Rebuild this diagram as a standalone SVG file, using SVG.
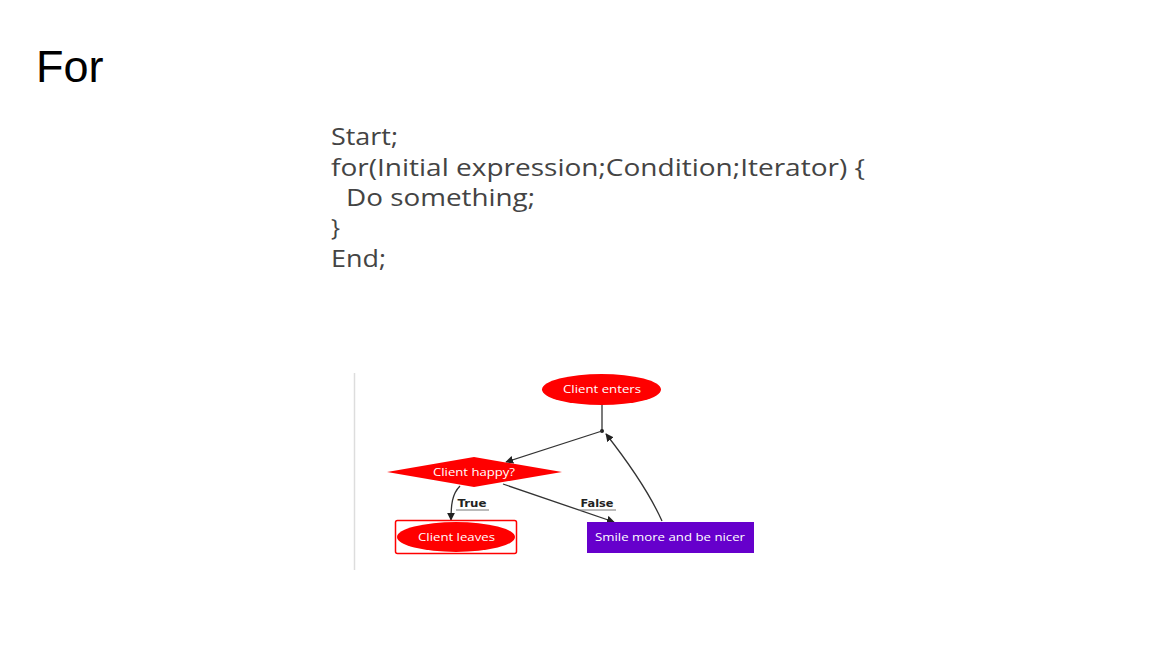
<svg xmlns="http://www.w3.org/2000/svg" width="1170" height="645" viewBox="0 0 1170 645">
<defs>
<style>
.title{font-family:"Liberation Sans",Arial,sans-serif;font-size:45px;fill:#000}
.code{font-family:"Open Sans","Noto Sans",sans-serif;font-size:24px;fill:#444}
.nl{font-family:"Open Sans","DejaVu Sans",sans-serif;font-size:11px;fill:#fff;text-anchor:middle}
.el{font-family:"DejaVu Sans","Open Sans",sans-serif;font-size:10.5px;font-weight:bold;fill:#222;text-anchor:middle}
.edge{fill:none;stroke:#333;stroke-width:1.3}
.ul{stroke:#777;stroke-width:1}
</style>
<marker id="ah" viewBox="0 0 10 10" refX="9" refY="5" markerWidth="8" markerHeight="8" markerUnits="userSpaceOnUse" orient="auto">
<path d="M0,0 L10,5 L0,10 z" fill="#222"/>
</marker>
</defs>
<rect width="1170" height="645" fill="#fff"/>
<text class="title" x="36" y="82">For</text>
<g id="code">
<text class="code" x="331" y="145" textLength="67" lengthAdjust="spacingAndGlyphs">Start;</text>
<text class="code" x="331" y="176" textLength="534" lengthAdjust="spacingAndGlyphs">for(Initial expression;Condition;Iterator) {</text>
<text class="code" x="346" y="206" textLength="189" lengthAdjust="spacingAndGlyphs">Do something;</text>
<text class="code" x="331" y="236">}</text>
<text class="code" x="331" y="267" textLength="55" lengthAdjust="spacingAndGlyphs">End;</text>
</g>
<line x1="354.5" y1="373" x2="354.5" y2="570" stroke="#ddd" stroke-width="1.5"/>
<g id="connectors">
<line class="edge" x1="602" y1="405" x2="602" y2="431"/>
<circle cx="602" cy="431" r="2" fill="#222"/>
<path class="edge" d="M602,431 L506,462" marker-end="url(#ah)"/>
<path class="edge" d="M460,486 C452,494 451,505 451,520" marker-end="url(#ah)"/>
<path class="edge" d="M503,484 L614,522" marker-end="url(#ah)"/>
<path class="edge" d="M662,521 C648,490 628,462 606,434" marker-end="url(#ah)"/>
<text class="el" x="472" y="507" textLength="29" lengthAdjust="spacingAndGlyphs">True</text>
<line class="ul" x1="456" y1="510" x2="489" y2="510"/>
<text class="el" x="597" y="507" textLength="33" lengthAdjust="spacingAndGlyphs">False</text>
<line class="ul" x1="579" y1="510" x2="616" y2="510"/>
</g>
<g id="client-enters">
<ellipse cx="601.5" cy="389.5" rx="59.5" ry="15.5" fill="#ff0000"/>
<text class="nl" x="602" y="393" textLength="78" lengthAdjust="spacingAndGlyphs">Client enters</text>
</g>
<g id="client-happy">
<polygon points="387,472 474,457 562,472 474,487" fill="#ff0000"/>
<text class="nl" x="474" y="475.5" textLength="82" lengthAdjust="spacingAndGlyphs">Client happy?</text>
</g>
<g id="client-leaves">
<rect x="395.5" y="520.5" width="121" height="33" fill="none" stroke="#ff0000" stroke-width="1.5" rx="2"/>
<ellipse cx="456" cy="537" rx="59" ry="15" fill="#ff0000"/>
<text class="nl" x="456.5" y="540.5" textLength="77" lengthAdjust="spacingAndGlyphs">Client leaves</text>
</g>
<g id="smile">
<rect x="587" y="522" width="167" height="31" fill="#6600cc"/>
<text class="nl" x="670" y="541" textLength="150" lengthAdjust="spacingAndGlyphs">Smile more and be nicer</text>
</g>
</svg>
